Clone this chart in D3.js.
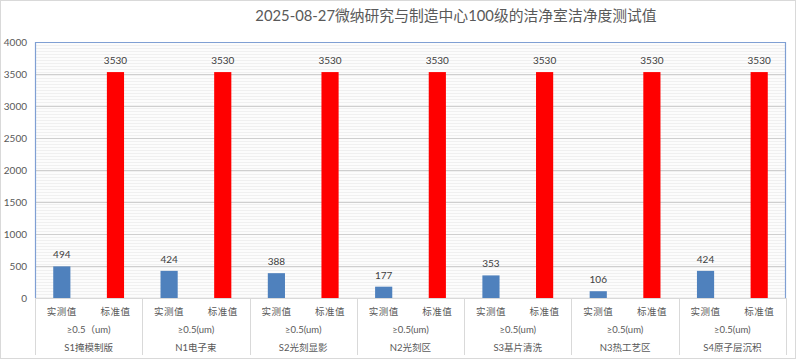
<!DOCTYPE html>
<html>
<head>
<meta charset="utf-8">
<script src="https://cdn.jsdelivr.net/npm/d3@7"></script>
<style>
  body { margin: 0; background: #fff; }
  svg { display: block; }
</style>
</head>
<body>
<div id="chart"></div>
<script>
// chart data
const areas = ['S1掩模制版', 'N1电子束', 'S2光刻显影', 'N2光刻区', 'S3基片清洗', 'N3热工艺区', 'S4原子层沉积'];
const sizeLabels = ['≥0.5（um)', '≥0.5(um)', '≥0.5(um)', '≥0.5(um)', '≥0.5(um)', '≥0.5(um)', '≥0.5(um)'];
const seriesNames = ['实测值', '标准值'];
const measured = [494, 424, 388, 177, 353, 106, 424];
const standard = [3530, 3530, 3530, 3530, 3530, 3530, 3530];
const yTicks = [0, 500, 1000, 1500, 2000, 2500, 3000, 3500, 4000];
const title = '2025-08-27微纳研究与制造中心100级的洁净室洁净度测试值';

const width = 798, height = 362;
const margin = {top: 42, right: 12, bottom: 64, left: 35};
const plotW = width - margin.left - margin.right;
const plotH = height - margin.top - margin.bottom;
const textColor = '#595959';
const latinFont = "Lato, 'Noto Sans CJK SC', sans-serif";

const svg = d3.select('#chart').append('svg')
  .attr('width', width)
  .attr('height', height);

// background hatch like the excel pattern fill
const defs = svg.append('defs');
const pat = defs.append('pattern')
  .attr('id', 'hatch')
  .attr('patternUnits', 'userSpaceOnUse')
  .attr('width', 4).attr('height', 3);
pat.append('rect').attr('width', 4).attr('height', 3).attr('fill', '#fcfcfc');
pat.append('rect').attr('width', 4).attr('height', 1).attr('fill', '#f0f0f0');

// outer chart border
svg.append('rect')
  .attr('x', 0.5).attr('y', 0.5)
  .attr('width', width - 3).attr('height', height - 4)
  .attr('fill', 'none')
  .attr('stroke', '#d9d9d9');

svg.append('text')
  .attr('x', 456)
  .attr('y', 21)
  .attr('text-anchor', 'middle')
  .attr('font-family', latinFont)
  .attr('font-size', 14.8)
  .attr('fill', textColor)
  .text(title);

const g = svg.append('g')
  .attr('transform', `translate(${margin.left},${margin.top})`);

const x0 = d3.scaleBand().domain(areas).range([0, plotW]).padding(0);
const x1 = d3.scaleBand().domain(seriesNames).range([0, x0.bandwidth()]).padding(0);
const y = d3.scaleLinear().domain([0, 4000]).range([plotH, 0]);
const barW = x1.bandwidth() * 0.32;

g.append('rect')
  .attr('width', plotW).attr('height', plotH)
  .attr('fill', 'url(#hatch)');

// gridlines
g.append('g')
  .selectAll('line')
  .data(yTicks.filter(d => d > 0))
  .join('line')
    .attr('x1', 0).attr('x2', plotW)
    .attr('y1', d => Math.round(y(d)) + 0.5)
    .attr('y2', d => Math.round(y(d)) + 0.5)
    .attr('stroke', '#cfcfcf');

// y axis labels
const yAxis = g.append('g')
  .call(d3.axisLeft(y).tickValues(yTicks).tickFormat(d3.format('d')).tickSize(0).tickPadding(8));
yAxis.select('.domain').remove();
yAxis.selectAll('text')
  .attr('font-family', latinFont)
  .attr('font-size', 10)
  .attr('fill', textColor);

const rows = areas.map((a, i) => ({area: a, values: [measured[i], standard[i]]}));
const colors = d3.scaleOrdinal().domain(seriesNames).range(['#4f81bd', '#ff0000']);

const groups = g.append('g')
  .selectAll('g')
  .data(rows)
  .join('g')
    .attr('transform', d => `translate(${x0(d.area)},0)`);

const bars = groups.selectAll('g')
  .data(d => seriesNames.map((s, j) => ({series: s, value: d.values[j]})))
  .join('g');

bars.append('rect')
  .attr('x', d => x1(d.series) + (x1.bandwidth() - barW) / 2)
  .attr('y', d => y(d.value))
  .attr('width', barW)
  .attr('height', d => y(0) - y(d.value))
  .attr('fill', d => colors(d.series));

bars.append('text')
  .attr('x', d => x1(d.series) + x1.bandwidth() / 2)
  .attr('y', d => y(d.value) - 8)
  .attr('text-anchor', 'middle')
  .attr('font-family', latinFont)
  .attr('font-size', 10)
  .attr('fill', '#404040')
  .text(d => d.value);

// multi level category labels
bars.append('text')
  .attr('x', d => x1(d.series) + x1.bandwidth() / 2)
  .attr('y', plotH + 17)
  .attr('text-anchor', 'middle')
  .attr('font-family', "'Noto Sans CJK SC', sans-serif")
  .attr('font-size', 9.5)
  .attr('letter-spacing', 0.5)
  .attr('fill', textColor)
  .text(d => d.series);

groups.append('text')
  .attr('x', x0.bandwidth() / 2)
  .attr('y', plotH + 35)
  .attr('text-anchor', 'middle')
  .attr('font-family', latinFont)
  .attr('font-size', 9.5)
  .attr('fill', textColor)
  .text((d, i) => sizeLabels[i]);

groups.append('text')
  .attr('x', x0.bandwidth() / 2)
  .attr('y', plotH + 53)
  .attr('text-anchor', 'middle')
  .attr('font-family', latinFont)
  .attr('font-size', 9.5)
  .attr('fill', textColor)
  .text(d => d.area);

// separators between groups in the axis area
g.append('g')
  .selectAll('line')
  .data(areas.map(a => x0(a)).concat([plotW]))
  .join('line')
    .attr('x1', d => Math.round(d) + 0.5)
    .attr('x2', d => Math.round(d) + 0.5)
    .attr('y1', plotH)
    .attr('y2', plotH + 57)
    .attr('stroke', '#d9d9d9');

g.append('line')
  .attr('x1', 0).attr('x2', plotW)
  .attr('y1', plotH + 0.5).attr('y2', plotH + 0.5)
  .attr('stroke', '#d9d9d9');

// plot area border: top, left, right
g.append('path')
  .attr('d', `M0.5,${plotH}V0.5H${Math.round(plotW) - 0.5}V${plotH}`)
  .attr('fill', 'none')
  .attr('stroke', '#7f9fd3')
  .attr('stroke-width', 1.2);
</script>
</body>
</html>
